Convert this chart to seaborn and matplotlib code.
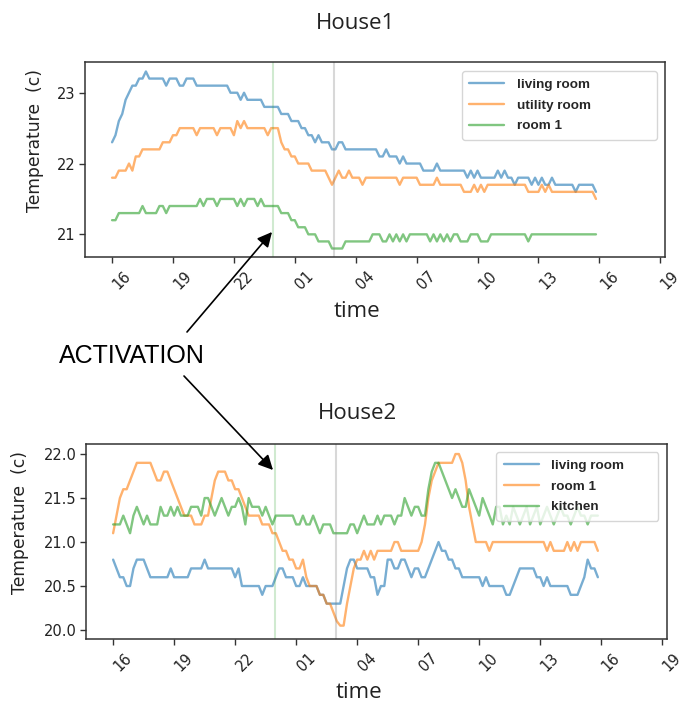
import numpy as np
import pandas as pd
import matplotlib
matplotlib.use("Agg")
import matplotlib.pyplot as plt
import matplotlib.dates as mdates
import matplotlib.transforms as mtransforms
import seaborn as sns

# ---------------- data ----------------
start_time = "2019-01-01 16:00"
sample_freq = "10min"
activation_time = "2019-01-01 23:57"
end_time_marker = "2019-01-02 02:57"
tick_hours = [1, 4, 7, 10, 13, 16, 19, 22]

house1_rooms = ["living room", "utility room", "room 1"]
house2_rooms = ["living room", "room 1", "kitchen"]

h1_living = [
    22.3, 22.4, 22.6, 22.7, 22.9, 23.0, 23.1, 23.1, 23.2, 23.2,
    23.3, 23.2, 23.2, 23.2, 23.2, 23.2, 23.1, 23.2, 23.2, 23.2,
    23.1, 23.1, 23.2, 23.2, 23.2, 23.1, 23.1, 23.1, 23.1, 23.1,
    23.1, 23.1, 23.1, 23.1, 23.1, 23.0, 23.0, 23.0, 22.9, 23.0,
    22.9, 22.9, 22.9, 22.9, 22.9, 22.8, 22.8, 22.8, 22.8, 22.8,
    22.7, 22.7, 22.7, 22.6, 22.6, 22.6, 22.5, 22.5, 22.4, 22.4,
    22.3, 22.4, 22.3, 22.3, 22.3, 22.2, 22.2, 22.3, 22.3, 22.2,
    22.2, 22.2, 22.2, 22.2, 22.2, 22.2, 22.2, 22.2, 22.2, 22.1,
    22.1, 22.2, 22.1, 22.1, 22.1, 22.0, 22.1, 22.0, 22.0, 22.0,
    22.0, 22.0, 21.9, 21.9, 21.9, 21.9, 22.0, 21.9, 21.9, 21.9,
    21.9, 21.9, 21.9, 21.9, 21.9, 21.8, 21.9, 21.8, 21.9, 21.8,
    21.8, 21.8, 21.8, 21.8, 21.9, 21.8, 21.9, 21.8, 21.8, 21.7,
    21.8, 21.8, 21.8, 21.8, 21.7, 21.8, 21.7, 21.8, 21.7, 21.7,
    21.8, 21.7, 21.7, 21.7, 21.7, 21.7, 21.7, 21.6, 21.7, 21.7,
    21.7, 21.7, 21.7, 21.6,
]
h1_utility = [
    21.8, 21.8, 21.9, 21.9, 21.9, 22.0, 21.9, 22.1, 22.1, 22.2,
    22.2, 22.2, 22.2, 22.2, 22.2, 22.3, 22.3, 22.3, 22.4, 22.4,
    22.5, 22.5, 22.5, 22.5, 22.5, 22.4, 22.5, 22.5, 22.5, 22.5,
    22.5, 22.4, 22.5, 22.5, 22.5, 22.5, 22.4, 22.6, 22.5, 22.6,
    22.5, 22.5, 22.5, 22.5, 22.5, 22.5, 22.4, 22.5, 22.5, 22.5,
    22.3, 22.2, 22.2, 22.1, 22.1, 22.0, 22.0, 22.0, 22.0, 21.9,
    21.9, 21.9, 21.9, 21.9, 21.8, 21.7, 21.8, 21.9, 21.8, 21.8,
    21.9, 21.8, 21.8, 21.8, 21.7, 21.8, 21.8, 21.8, 21.8, 21.8,
    21.8, 21.8, 21.8, 21.8, 21.8, 21.7, 21.8, 21.8, 21.8, 21.8,
    21.8, 21.7, 21.7, 21.7, 21.7, 21.7, 21.8, 21.7, 21.7, 21.7,
    21.7, 21.7, 21.7, 21.7, 21.6, 21.6, 21.6, 21.7, 21.6, 21.7,
    21.6, 21.7, 21.7, 21.7, 21.7, 21.7, 21.7, 21.7, 21.7, 21.7,
    21.7, 21.7, 21.7, 21.6, 21.6, 21.6, 21.6, 21.7, 21.6, 21.7,
    21.6, 21.6, 21.6, 21.6, 21.6, 21.6, 21.6, 21.6, 21.6, 21.6,
    21.6, 21.6, 21.6, 21.5,
]
h1_room1 = [
    21.2, 21.2, 21.3, 21.3, 21.3, 21.3, 21.3, 21.3, 21.3, 21.4,
    21.3, 21.3, 21.3, 21.3, 21.4, 21.4, 21.3, 21.4, 21.4, 21.4,
    21.4, 21.4, 21.4, 21.4, 21.4, 21.4, 21.5, 21.4, 21.5, 21.5,
    21.5, 21.4, 21.5, 21.5, 21.5, 21.5, 21.5, 21.4, 21.5, 21.4,
    21.5, 21.5, 21.5, 21.4, 21.5, 21.4, 21.4, 21.4, 21.4, 21.4,
    21.3, 21.3, 21.3, 21.2, 21.2, 21.1, 21.1, 21.1, 21.0, 21.0,
    21.0, 20.9, 20.9, 20.9, 20.9, 20.8, 20.8, 20.8, 20.8, 20.9,
    20.9, 20.9, 20.9, 20.9, 20.9, 20.9, 20.9, 21.0, 21.0, 21.0,
    20.9, 20.9, 21.0, 20.9, 21.0, 20.9, 21.0, 20.9, 21.0, 21.0,
    21.0, 21.0, 21.0, 21.0, 20.9, 21.0, 20.9, 21.0, 20.9, 21.0,
    20.9, 21.0, 21.0, 20.9, 20.9, 20.9, 21.0, 21.0, 21.0, 20.9,
    20.9, 20.9, 21.0, 21.0, 21.0, 21.0, 21.0, 21.0, 21.0, 21.0,
    21.0, 21.0, 21.0, 20.9, 21.0, 21.0, 21.0, 21.0, 21.0, 21.0,
    21.0, 21.0, 21.0, 21.0, 21.0, 21.0, 21.0, 21.0, 21.0, 21.0,
    21.0, 21.0, 21.0, 21.0,
]
h2_living = [
    20.8, 20.7, 20.6, 20.6, 20.5, 20.5, 20.7, 20.8, 20.8, 20.8,
    20.7, 20.6, 20.6, 20.6, 20.6, 20.6, 20.6, 20.7, 20.6, 20.6,
    20.6, 20.6, 20.6, 20.7, 20.7, 20.7, 20.7, 20.8, 20.7, 20.7,
    20.7, 20.7, 20.7, 20.7, 20.7, 20.7, 20.6, 20.7, 20.5, 20.5,
    20.5, 20.5, 20.5, 20.5, 20.4, 20.5, 20.5, 20.5, 20.6, 20.7,
    20.7, 20.6, 20.6, 20.6, 20.5, 20.5, 20.6, 20.5, 20.5, 20.5,
    20.5, 20.4, 20.4, 20.3, 20.3, 20.3, 20.3, 20.3, 20.5, 20.7,
    20.8, 20.8, 20.7, 20.7, 20.7, 20.7, 20.6, 20.6, 20.4, 20.5,
    20.5, 20.8, 20.8, 20.7, 20.7, 20.8, 20.8, 20.7, 20.6, 20.7,
    20.7, 20.6, 20.6, 20.7, 20.8, 20.9, 21.0, 20.9, 20.9, 20.8,
    20.8, 20.7, 20.7, 20.6, 20.6, 20.6, 20.6, 20.6, 20.6, 20.5,
    20.6, 20.5, 20.5, 20.5, 20.5, 20.5, 20.4, 20.4, 20.5, 20.6,
    20.7, 20.7, 20.7, 20.7, 20.7, 20.6, 20.6, 20.5, 20.6, 20.5,
    20.5, 20.5, 20.5, 20.5, 20.5, 20.4, 20.4, 20.4, 20.5, 20.6,
    20.8, 20.7, 20.7, 20.6,
]
h2_room1 = [
    21.1, 21.3, 21.5, 21.6, 21.6, 21.7, 21.8, 21.9, 21.9, 21.9,
    21.9, 21.9, 21.8, 21.7, 21.7, 21.8, 21.8, 21.7, 21.6, 21.5,
    21.4, 21.3, 21.3, 21.3, 21.2, 21.2, 21.2, 21.3, 21.3, 21.5,
    21.7, 21.8, 21.8, 21.8, 21.7, 21.7, 21.6, 21.6, 21.5, 21.4,
    21.3, 21.3, 21.3, 21.3, 21.2, 21.2, 21.2, 21.1, 21.1, 21.0,
    20.9, 20.9, 20.8, 20.8, 20.7, 20.7, 20.8, 20.6, 20.5, 20.5,
    20.5, 20.4, 20.4, 20.3, 20.3, 20.2, 20.1, 20.05, 20.05, 20.3,
    20.5, 20.7, 20.8, 20.8, 20.9, 20.8, 20.9, 20.8, 20.9, 20.9,
    20.9, 20.9, 20.9, 21.0, 21.0, 20.9, 20.9, 20.9, 20.9, 20.9,
    20.9, 21.0, 21.2, 21.5, 21.7, 21.8, 21.9, 21.9, 21.9, 21.9,
    21.9, 22.0, 22.0, 21.9, 21.7, 21.4, 21.2, 21.0, 21.0, 21.0,
    21.0, 20.9, 21.0, 21.0, 21.0, 21.0, 21.0, 21.0, 21.0, 21.0,
    21.0, 21.0, 21.0, 21.0, 21.0, 21.0, 21.0, 21.0, 20.9, 21.0,
    20.9, 20.9, 20.9, 20.9, 21.0, 20.9, 21.0, 20.9, 21.0, 21.0,
    21.0, 21.0, 21.0, 20.9,
]
h2_kitchen = [
    21.2, 21.2, 21.2, 21.3, 21.2, 21.1, 21.3, 21.4, 21.3, 21.2,
    21.3, 21.2, 21.2, 21.2, 21.4, 21.3, 21.3, 21.4, 21.3, 21.4,
    21.3, 21.3, 21.3, 21.4, 21.4, 21.4, 21.3, 21.5, 21.5, 21.4,
    21.3, 21.4, 21.5, 21.4, 21.3, 21.4, 21.4, 21.5, 21.4, 21.2,
    21.5, 21.4, 21.4, 21.4, 21.3, 21.4, 21.3, 21.2, 21.3, 21.3,
    21.3, 21.3, 21.3, 21.3, 21.2, 21.2, 21.3, 21.2, 21.2, 21.3,
    21.2, 21.1, 21.2, 21.2, 21.2, 21.1, 21.1, 21.1, 21.1, 21.1,
    21.2, 21.2, 21.1, 21.2, 21.3, 21.2, 21.2, 21.2, 21.3, 21.2,
    21.3, 21.3, 21.3, 21.2, 21.3, 21.3, 21.5, 21.4, 21.3, 21.4,
    21.4, 21.3, 21.3, 21.6, 21.8, 21.9, 21.9, 21.8, 21.7, 21.6,
    21.5, 21.6, 21.5, 21.4, 21.4, 21.6, 21.5, 21.4, 21.3, 21.5,
    21.4, 21.3, 21.2, 21.4, 21.4, 21.2, 21.3, 21.2, 21.4, 21.3,
    21.2, 21.3, 21.4, 21.2, 21.3, 21.4, 21.2, 21.3, 21.4, 21.3,
    21.2, 21.3, 21.4, 21.3, 21.3, 21.2, 21.3, 21.4, 21.3, 21.3,
    21.2, 21.3, 21.3, 21.3,
]

# ---------------- style ----------------
sns.set_theme(style="ticks")
plt.rcParams["font.family"] = ["DejaVu Sans"]
colors = sns.color_palette("tab10", 3)

W, H = 686, 715
fig = plt.figure(figsize=(W / 100, H / 100), dpi=100)
ax1 = fig.add_axes([85 / W, 1 - 257 / H, 580 / W, 195 / H])
ax2 = fig.add_axes([86 / W, 1 - 639 / H, 581 / W, 195 / H])

t_index = pd.date_range(start_time, periods=len(h1_living), freq=sample_freq)


def draw(ax, rooms, series, ylim, yticks, yfmt, legend_bbox, title, ylabel_x,
         title_pad, xlabel_y):
    for name, vals, c in zip(rooms, series, colors):
        df = pd.DataFrame({"time": t_index[: len(vals)], "temp": vals})
        sns.lineplot(data=df, x="time", y="temp", ax=ax, color=c, alpha=0.6,
                     lw=1.7, label=name)
    ax.axvline(pd.Timestamp(activation_time), color="#2ca02c", alpha=0.22, lw=1.5)
    ax.axvline(pd.Timestamp(end_time_marker), color="#7f7f7f", alpha=0.3, lw=1.5)
    ax.set_xlim(pd.Timestamp("2019-01-01 14:40"), pd.Timestamp("2019-01-02 19:14"))
    ax.set_ylim(*ylim)
    ax.set_yticks(yticks)
    ax.set_yticklabels([yfmt.format(v) for v in yticks])
    ax.xaxis.set_major_locator(mdates.HourLocator(byhour=tick_hours))
    ax.xaxis.set_major_formatter(mdates.DateFormatter("%H"))
    ax.tick_params(axis="both", direction="out", length=4, width=1,
                   color="#333333", labelsize=10.5, labelcolor="#222222", pad=3)
    for lab in ax.get_xticklabels():
        lab.set_rotation(45)
        lab.set_ha("center")
        lab.set_transform(lab.get_transform() +
                          mtransforms.ScaledTranslation(0.10, -0.02, fig.dpi_scale_trans))
    for sp in ax.spines.values():
        sp.set_visible(True)
        sp.set_color("#333333")
        sp.set_linewidth(1.1)
    ax.set_xlabel("time", fontsize=16, family="Open Sans", color="#222222")
    ax.xaxis.set_label_coords(0.469, xlabel_y)
    ax.set_ylabel("Temperature  (c)", fontsize=12.3, color="#222222")
    ax.yaxis.set_label_coords(ylabel_x, 0.6)
    ax.set_title(title, fontsize=16, family="Open Sans", color="#222222",
                 x=(356 - 85) / 580, pad=title_pad)
    leg = ax.legend(loc="upper right", bbox_to_anchor=legend_bbox, mode="expand",
                    borderaxespad=0, frameon=True, fancybox=True, framealpha=0.8,
                    edgecolor="0.8", handlelength=2.6, handletextpad=0.9,
                    labelspacing=0.62, borderpad=0.55,
                    prop={"family": "Liberation Sans", "weight": "bold", "size": 9.7})
    leg.get_frame().set_linewidth(1.0)


draw(ax1, house1_rooms, [h1_living, h1_utility, h1_room1],
     (20.68, 23.434), [21, 22, 23], "{:.0f}",
     (0.65, 0.554, 0.336, 0.400), "House1", -0.071, 24, -0.228)
draw(ax2, house2_rooms, [h2_living, h2_room1, h2_kitchen],
     (19.898, 22.114), [20.0, 20.5, 21.0, 21.5, 22.0], "{:.1f}",
     (0.706, 0.554, 0.279, 0.405), "House2", -0.098, 18, -0.222)

# annotation
fig.text(132 / W, 1 - 356 / H, "ACTIVATION", fontsize=18, family="Liberation Sans",
         ha="center", va="center", color="black")
arrow_kw = dict(arrowstyle="-|>", color="black", lw=1.2, mutation_scale=22,
                shrinkA=0, shrinkB=0)
ax1.annotate("", xy=(272 / W, 1 - 232 / H), xytext=(187 / W, 1 - 332 / H),
             xycoords="figure fraction", textcoords="figure fraction",
             arrowprops=arrow_kw, annotation_clip=False)
ax2.annotate("", xy=(273 / W, 1 - 470 / H), xytext=(184 / W, 1 - 376 / H),
             xycoords="figure fraction", textcoords="figure fraction",
             arrowprops=arrow_kw, annotation_clip=False)

fig.savefig("out.png", dpi=100, facecolor="white")
